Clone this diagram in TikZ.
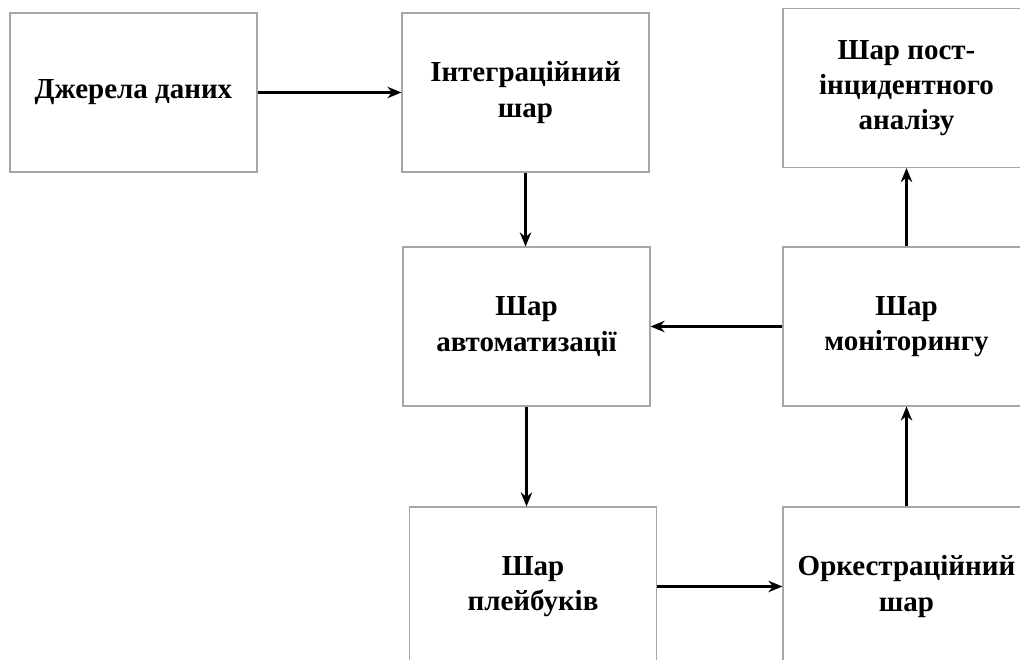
\documentclass[tikz,border=0pt]{standalone}
\usepackage{fontspec}
\setmainfont{Liberation Serif}
\usetikzlibrary{arrows.meta}
\tikzset{>={Stealth[length=8pt,width=6.5pt]}}
\tikzset{layer/.style={draw=gray!70, line width=0.6pt, minimum width=4.94cm, minimum height=3.18cm, align=center, font=\fontsize{16.5}{20}\selectfont\bfseries},
  flow/.style={->, line width=1.25pt}}

\begin{document}
\begin{tikzpicture}
\useasboundingbox (0,0) rectangle (20.4,13.2);
\clip (0,0) rectangle (20.4,13.2);
\node[layer] (src) at (2.67,11.35) {Джерела даних};
\node[layer] (integ) at (10.51,11.35) {Інтеграційний\\шар};
\node[layer] (post) at (18.13,11.44) {Шар пост-\\інцидентного\\аналізу};
\node[layer] (auto) at (10.53,6.67) {Шар\\автоматизації};
\node[layer] (mon) at (18.13,6.67) {Шар\\моніторингу};
\node[layer] (play) at (10.66,1.47) {Шар\\плейбуків};
\node[layer] (orch) at (18.13,1.47) {Оркестраційний\\шар};
\draw[flow] (src) -- (integ);
\draw[flow] (integ.south) -- (integ.south |- auto.north);
\draw[flow] (mon) -- (auto);
\draw[flow] (auto.south) -- (auto.south |- play.north);
\draw[flow] (play) -- (orch);
\draw[flow] (orch) -- (mon);
\draw[flow] (mon) -- (post);
\end{tikzpicture}
\end{document}
